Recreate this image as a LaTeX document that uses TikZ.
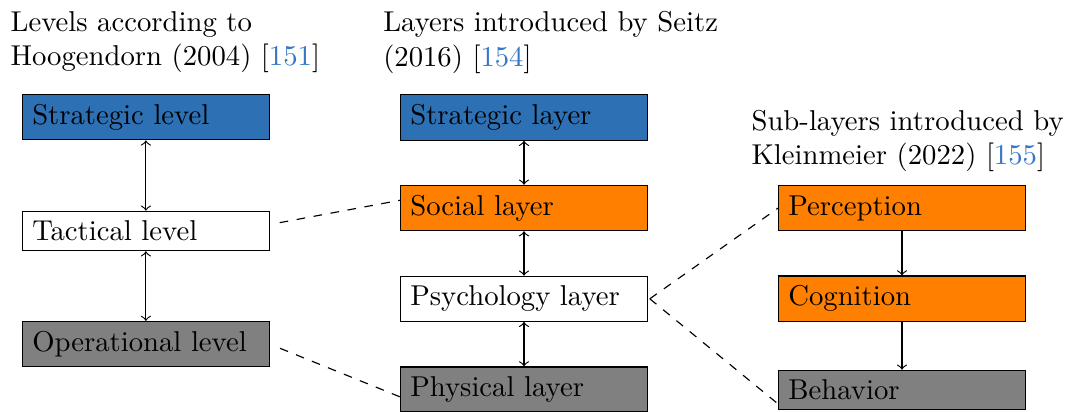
\documentclass[tikz,border=0pt]{standalone}
\usetikzlibrary{arrows}

\definecolor{levelblue}{RGB}{46,112,180}
\definecolor{levelorange}{RGB}{255,128,0}
\definecolor{levelgray}{RGB}{128,128,128}
\definecolor{citeblue}{RGB}{52,120,196}

\newcommand{\citenum}[1]{[\textcolor{citeblue}{#1}]}

\begin{document}
\begin{tikzpicture}[x=0.34845pt, y=-0.34845pt,
  levelbox/.style={draw=black, line width=0.4pt, text width=79.2pt, align=left,
                   inner sep=3.333pt, anchor=center},
  bluebox/.style={levelbox, fill=levelblue},
  orangebox/.style={levelbox, fill=levelorange},
  graybox/.style={levelbox, fill=levelgray},
  whitebox/.style={levelbox, fill=white},
  heading/.style={anchor=north west, inner sep=0pt, align=left},
  link/.style={line width=0.4pt, <->},
  flow/.style={line width=0.4pt, ->},
  relation/.style={line width=0.4pt, dashed}]

\useasboundingbox (0,0) rectangle (1071,412);

% column headings
\node[heading] (h1) at (10,10.8) {Levels according to\\Hoogendorn (2004) \citenum{151}};
\node[heading] (h2) at (382.7,10.8) {Layers introduced by Seitz\\(2016) \citenum{154}};
\node[heading] (h3) at (751,109.3) {Sub-layers introduced by\\Kleinmeier (2022) \citenum{155}};

% Hoogendorn levels
\node[bluebox]  (sl) at (145.9,117.2) {Strategic level};
\node[whitebox] (tl) at (145.9,231)   {Tactical level};
\node[graybox]  (ol) at (145.9,344)   {Operational level};

% Seitz layers
\node[bluebox]   (sy) at (524,117.5) {Strategic layer};
\node[orangebox] (so) at (524,208)   {Social layer};
\node[whitebox]  (ps) at (524,298.8) {Psychology layer};
\node[graybox]   (ph) at (524,389.5) {Physical layer};

% Kleinmeier sub-layers
\node[orangebox] (pe) at (902,208)   {Perception};
\node[orangebox] (co) at (902,298.7) {Cognition};
\node[graybox]   (be) at (902,390)   {Behavior};

% vertical links
\draw[link] (sl) -- (tl);
\draw[link] (tl) -- (ol);
\draw[link] (sy) -- (so);
\draw[link] (so) -- (ps);
\draw[link] (ps) -- (ph);
\draw[flow] (pe) -- (co);
\draw[flow] (co) -- (be);

% correspondences between the models
\draw[relation] ([xshift=3.5pt,yshift=2.9pt]tl.east) -- ([yshift=2.7pt]so.west);
\draw[relation] ([xshift=3.6pt,yshift=-1.5pt]ol.east) -- ([yshift=-2.6pt]ph.west);
\draw[relation] ([xshift=0.7pt]ps.east) -- (pe.west);
\draw[relation] ([xshift=0.7pt]ps.east) -- ([yshift=-4.9pt]be.west);
\end{tikzpicture}
\end{document}
